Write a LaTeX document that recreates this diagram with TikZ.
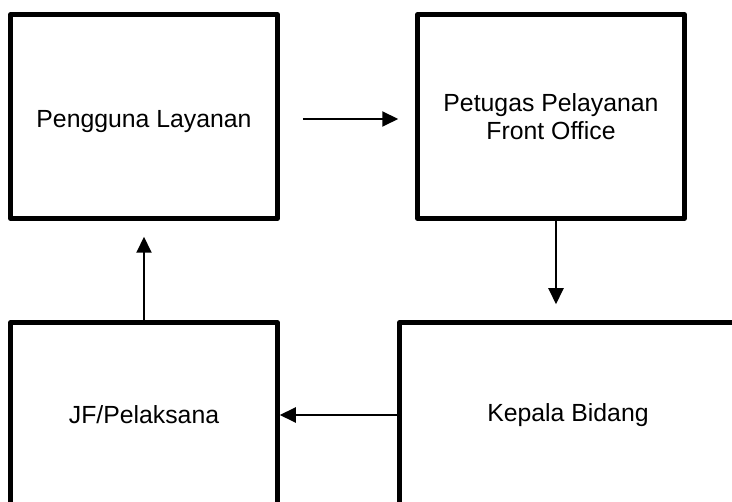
\documentclass[tikz,border=0pt]{standalone}
\usepackage{fontspec}
\setmainfont{Liberation Sans}
\usetikzlibrary{arrows.meta}

\begin{document}
\begin{tikzpicture}[x=1pt, y=-1pt, font=\fontsize{24.8}{28}\selectfont]
  \tikzset{flow box/.style={draw,rectangle,line width=4.5pt,line join=round,minimum width=267pt,minimum height=#1,align=center}}
  \tikzset{flow arrow/.style={line width=2pt,-{Triangle[length=16pt,width=15pt]}}}

  \useasboundingbox (0,0) rectangle (732,502);
  \clip (0,0) rectangle (732,502);

  \node [flow box = 204pt, text height=28pt] (pengguna) at (144,116.5) {Pengguna Layanan}; % kiri atas
  \node [flow box = 204pt] (petugas) at (551,116.5) {Petugas Pelayanan\\Front Office}; % kanan atas
  \node [flow box = 185pt, minimum width=337pt] (kepala) at (568,415) {Kepala Bidang}; % kanan bawah
  \node [flow box = 185pt] (jf) at (144,415) {JF/Pelaksana}; % kiri bawah

  \draw [flow arrow, shorten <=23pt, shorten >=17pt] (pengguna.east |- 0,119) -- (petugas.west |- 0,119);
  \draw [flow arrow, shorten >=16pt] (petugas.south -| 556,0) -- (kepala.north -| 556,0);
  \draw [flow arrow] (kepala.west) -- (kepala.west -| jf.east);
  \draw [flow arrow, shorten >=16pt] (jf.north) -- (pengguna.south);
\end{tikzpicture}
\end{document}
